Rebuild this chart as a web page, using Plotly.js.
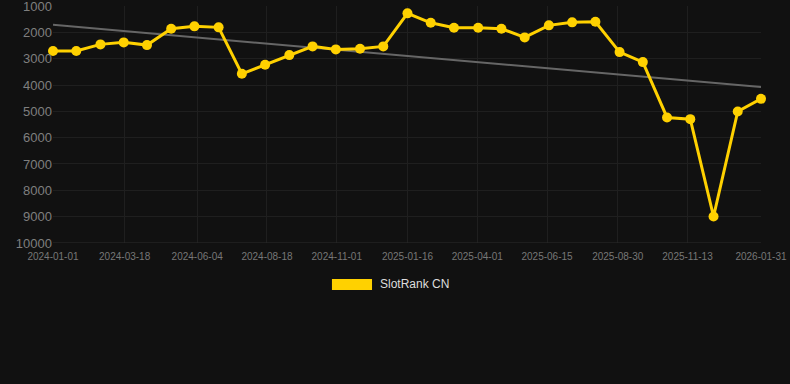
<!DOCTYPE html>
<html><head><meta charset="utf-8">
<script src="https://cdn.plot.ly/plotly-3.0.1.min.js"></script>
<style>html,body{margin:0;padding:0;background:#111111;}#chart{width:790px;height:384px;}</style>
</head><body><div id="chart"></div>
<script>
const dates = ["2024-01-01","2024-01-26","2024-02-21","2024-03-17","2024-04-11","2024-05-07","2024-06-01","2024-06-27","2024-07-22","2024-08-16","2024-09-11","2024-10-06","2024-10-31","2024-11-26","2024-12-21","2025-01-16","2025-02-10","2025-03-07","2025-04-02","2025-04-27","2025-05-22","2025-06-17","2025-07-12","2025-08-06","2025-09-01","2025-09-26","2025-10-22","2025-11-16","2025-12-11","2026-01-06","2026-01-31"];
const ranks = [2710,2710,2456,2380,2483,1863,1772,1810,3574,3232,2863,2532,2646,2624,2532,1278,1635,1825,1825,1863,2190,1734,1620,1597,2749,3129,5232,5297,8996,5004,4525];
const trendDates = ["2024-01-01","2026-01-31"];
const trendValues = [1711,4080];
const tickDates = ["2024-01-01","2024-03-18","2024-06-04","2024-08-18","2024-11-01","2025-01-16","2025-04-01","2025-06-15","2025-08-30","2025-11-13","2026-01-31"];
const yTicks = [1000,2000,3000,4000,5000,6000,7000,8000,9000,10000];
const seriesName = "SlotRank CN";

const traces = [
  {x: trendDates, y: trendValues, type:"scatter", mode:"lines", line:{color:"#666666", width:2}, showlegend:false, hoverinfo:"skip", cliponaxis:false},
  {x: dates, y: ranks, type:"scatter", mode:"lines+markers", name: seriesName, cliponaxis:false,
   line:{color:"#FFD100", width:3}, marker:{color:"#FFD100", size:10}, showlegend:false}
];
const layout = {
  width:790, height:384,
  paper_bgcolor:"#111111", plot_bgcolor:"#111111",
  margin:{l:53, r:29, t:6, b:141},
  font:{family:"Liberation Sans, Arial, sans-serif", color:"#888888"},
  xaxis:{type:"date", range:["2024-01-01","2026-01-31"], tickvals:tickDates, ticktext:tickDates,
    tickfont:{size:10, color:"#777777"}, gridcolor:"#1f1f1f", showline:false, zeroline:false,
    ticks:"outside", ticklen:4, tickcolor:"#111111"},
  yaxis:{range:[10002,998], tickvals:yTicks, ticktext:yTicks.map(String), tickfont:{size:13, color:"#7f7f7f"},
    ticklabeloverflow:"allow",
    gridcolor:"#1f1f1f", zeroline:false, showline:false, ticks:"", ticklen:0},
  shapes:[
    {type:"line", xref:"paper", yref:"y", x0:0, x1:1, y0:10000, y1:10000, line:{color:"#2a2a2a", width:1}},
    {type:"rect", xref:"paper", yref:"paper", x0:0.394, x1:0.4506, y0:-0.152, y1:-0.198, fillcolor:"#FFD100", line:{width:0}}
  ],
  annotations:[
    {xref:"paper", yref:"paper", x:0.459, y:-0.175, xanchor:"left", yanchor:"middle", text:seriesName, showarrow:false,
     font:{size:12, color:"#dddddd"}}
  ]
};
Plotly.newPlot("chart", traces, layout, {displayModeBar:false, staticPlot:true});
</script></body></html>
